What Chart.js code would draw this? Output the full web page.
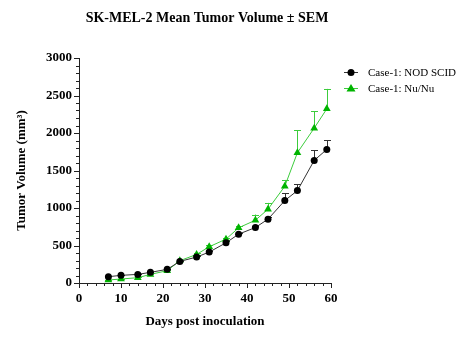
<!DOCTYPE html>
<html>
<head>
<meta charset="utf-8">
<script src="https://cdn.jsdelivr.net/npm/chart.js@4/dist/chart.umd.min.js"></script>
<style>
  html, body { margin: 0; padding: 0; background: #fff; }
  #wrap { width: 468px; height: 354px; }
</style>
</head>
<body>
<div id="wrap"><canvas id="tumor-chart" width="468" height="354"></canvas></div>
<script>
// Days post inoculation
const days = [7, 10, 14, 17, 21, 24, 28, 31, 35, 38, 42, 45, 49, 52, 56, 59];

// Case-1: NOD SCID
const nodMean = [84, 102, 115, 142, 182, 288, 346, 412, 536, 651, 740, 851, 1099, 1232, 1635, 1781];
const nodSem  = [5, 5, 5, 8, 10, 10, 15, 15, 20, 20, 25, 35, 97, 88, 133, 120];

// Case-1: Nu/Nu
const nuMean = [40, 53, 71, 115, 164, 297, 381, 483, 585, 736, 837, 984, 1290, 1737, 2065, 2322];
const nuSem  = [5, 5, 8, 10, 10, 15, 20, 20, 20, 25, 76, 84, 84, 302, 226, 266];

const seriesLabels = ['Case-1: NOD SCID', 'Case-1: Nu/Nu'];

const serif = "'Liberation Serif', 'Times New Roman', serif";

function toPoints(xs, ys) {
    return xs.map((x, i) => ({ x: x, y: ys[i] }));
}

// upward-only error bars, GraphPad style
const errorBars = {
    id: 'errorBars',
    beforeDatasetsDraw(chart) {
        const ctx = chart.ctx;
        const yScale = chart.scales.y;
        chart.data.datasets.forEach((ds, di) => {
            const meta = chart.getDatasetMeta(di);
            ctx.save();
            ctx.strokeStyle = ds.borderColor;
            ctx.lineWidth = 1;
            meta.data.forEach((pt, i) => {
                const top = yScale.getPixelForValue(ds.data[i].y + ds.sem[i]);
                const x = Math.round(pt.x) + 0.5;
                ctx.beginPath();
                ctx.moveTo(x, pt.y);
                ctx.lineTo(x, top);
                ctx.moveTo(x - 3.5, Math.round(top) + 0.5);
                ctx.lineTo(x + 3.5, Math.round(top) + 0.5);
                ctx.stroke();
            });
            ctx.restore();
        });
    }
};

// outward major/minor ticks, title and legend
const decorations = {
    id: 'decorations',
    afterDraw(chart) {
        const ctx = chart.ctx;
        const xs = chart.scales.x, ys = chart.scales.y;
        const area = chart.chartArea;
        ctx.save();
        ctx.strokeStyle = '#222';
        ctx.lineWidth = 1;
        ctx.beginPath();
        for (let v = 0; v <= 3000; v += 100) {
            const y = Math.round(ys.getPixelForValue(v)) + 0.5;
            const len = v % 500 === 0 ? 5 : 3;
            ctx.moveTo(area.left - len, y);
            ctx.lineTo(area.left, y);
        }
        for (let v = 0; v <= 60; v += 2) {
            const x = Math.round(xs.getPixelForValue(v)) + 0.5;
            const len = v % 10 === 0 ? 5 : 3;
            ctx.moveTo(x, area.bottom);
            ctx.lineTo(x, area.bottom + len);
        }
        ctx.stroke();

        // title
        ctx.fillStyle = '#000';
        ctx.font = 'bold 14px ' + serif;
        ctx.textAlign = 'center';
        ctx.textBaseline = 'middle';
        ctx.fillText('SK-MEL-2 Mean Tumor Volume \u00b1 SEM', 207, 18);

        // legend
        ctx.font = '11px ' + serif;
        ctx.textAlign = 'left';
        chart.data.datasets.forEach((ds, i) => {
            const y = 72 + i * 16;
            ctx.strokeStyle = ds.borderColor;
            ctx.beginPath();
            ctx.moveTo(344, y + 0.5);
            ctx.lineTo(358, y + 0.5);
            ctx.stroke();
            ctx.fillStyle = ds.pointBackgroundColor;
            ctx.beginPath();
            if (ds.pointStyle === 'triangle') {
                ctx.moveTo(351, y - 4);
                ctx.lineTo(355.5, y + 3.5);
                ctx.lineTo(346.5, y + 3.5);
                ctx.closePath();
            } else {
                ctx.arc(351, y + 0.5, 3.5, 0, Math.PI * 2);
            }
            ctx.fill();
            ctx.fillStyle = '#000';
            ctx.fillText(ds.label, 368, y + 1);
        });
        ctx.restore();
    }
};

new Chart(document.getElementById('tumor-chart'), {
    type: 'line',
    data: {
        datasets: [{
            label: seriesLabels[0],
            data: toPoints(days, nodMean),
            sem: nodSem,
            borderColor: '#333',
            borderWidth: 1,
            pointStyle: 'circle',
            pointRadius: 3.5,
            pointBackgroundColor: '#000',
            pointBorderColor: '#000',
            pointBorderWidth: 0,
            tension: 0
        }, {
            label: seriesLabels[1],
            data: toPoints(days, nuMean),
            sem: nuSem,
            borderColor: '#3ccc3c',
            borderWidth: 1,
            pointStyle: 'triangle',
            pointRadius: 4.5,
            pointBackgroundColor: '#00b400',
            pointBorderColor: '#00b400',
            pointBorderWidth: 0,
            tension: 0
        }]
    },
    options: {
        responsive: false,
        animation: false,
        layout: { padding: { left: 14, right: 137, top: 58, bottom: 25 } },
        plugins: {
            legend: { display: false },
            title: { display: false },
            tooltip: { enabled: false }
        },
        scales: {
            x: {
                type: 'linear',
                min: 0,
                max: 60,
                afterFit(scale) { scale.height = 46; },
                ticks: {
                    stepSize: 10,
                    padding: 8,
                    color: '#000',
                    callback: (v) => String(v),
                    font: { family: serif, size: 13, weight: 'bold' }
                },
                grid: { drawOnChartArea: false, drawTicks: false },
                border: { color: '#222', width: 1 },
                title: {
                    display: true,
                    text: 'Days post inoculation',
                    color: '#000',
                    padding: 0,
                    font: { family: serif, size: 13, weight: 'bold' }
                }
            },
            y: {
                min: 0,
                max: 3000,
                afterFit(scale) { scale.width = 65; },
                ticks: {
                    stepSize: 500,
                    padding: 7,
                    color: '#000',
                    callback: (v) => String(v),
                    font: { family: serif, size: 13, weight: 'bold' }
                },
                grid: { drawOnChartArea: false, drawTicks: false },
                border: { color: '#222', width: 1 },
                title: {
                    display: true,
                    text: 'Tumor Volume (mm\u00b3)',
                    color: '#000',
                    padding: 0,
                    font: { family: serif, size: 13, weight: 'bold' }
                }
            }
        }
    },
    plugins: [errorBars, decorations]
});
</script>
</body>
</html>
